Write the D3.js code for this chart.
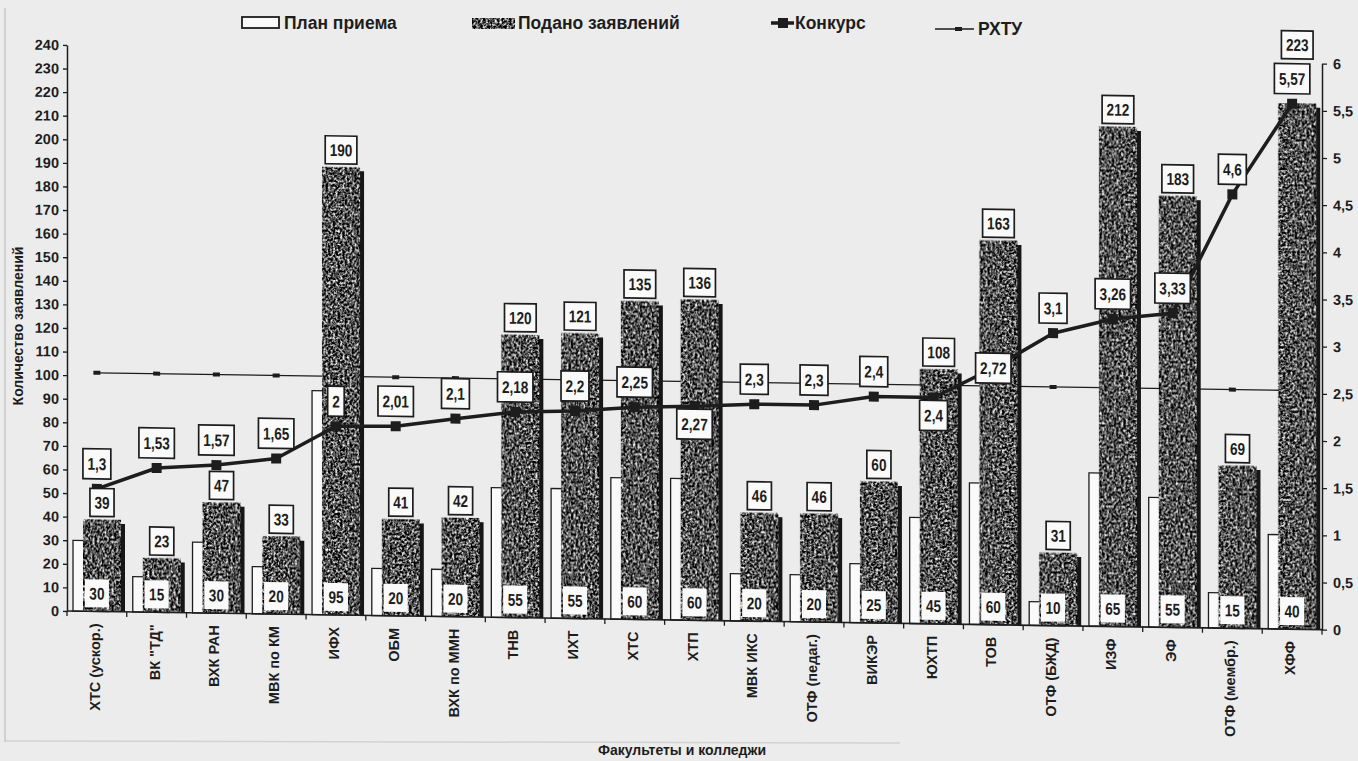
<!DOCTYPE html>
<html lang="ru">
<head>
<meta charset="utf-8">
<title>Конкурс по факультетам и колледжам</title>
<script src="https://cdn.jsdelivr.net/npm/d3@7"></script>
<style>
  body { margin: 0; background: #ececec; }
  svg { display: block; font-family: 'Liberation Sans', Arial, sans-serif; }
</style>
</head>
<body>
<div id="chart"></div>
<script>
// data
const categories = ['ХТС (ускор.)', 'ВК "ТД"', 'ВХК РАН', 'МВК по КМ', 'ИФХ', 'ОБМ', 'ВХК по ММН',
  'ТНВ', 'ИХТ', 'ХТС', 'ХТП', 'МВК ИКС', 'ОТФ (педаг.)', 'ВИКЭР', 'ЮХТП', 'ТОВ', 'ОТФ (БЖД)',
  'ИЗФ', 'ЭФ', 'ОТФ (мембр.)', 'ХФФ'];
const planValues = [30, 15, 30, 20, 95, 20, 20, 55, 55, 60, 60, 20, 20, 25, 45, 60, 10, 65, 55, 15, 40];
const appliedValues = [39, 23, 47, 33, 190, 41, 42, 120, 121, 135, 136, 46, 46, 60, 108, 163, 31, 212, 183, 69, 223];
const contestValues = [1.3, 1.53, 1.57, 1.65, 2, 2.01, 2.1, 2.18, 2.2, 2.25, 2.27, 2.3, 2.3, 2.4, 2.4, 2.72, 3.1, 3.26, 3.33, 4.6, 5.57];
const universityContest = 2.53; // РХТУ
const leftTicks = d3.range(0, 241, 10);
const rightTicks = d3.range(0, 6.01, 0.5);
const legendLabels = ['План приема', 'Подано заявлений', 'Конкурс', 'РХТУ'];
const yTitle = 'Количество заявлений';
const xTitle = 'Факультеты и колледжи';

// where the contest label sits off its default spot (above the marker)
const contestBelow = [10, 14];
const contestCentered = [15];

const W = 1358, H = 761;
const x0 = 67, x1 = 1322, yBase = 611, yTop = 45;
const ink = '#1d1d1d';
const paperWhite = '#fafafa';
const skewDeg = 0.85; // the scan is sheared a little

const fmt = d => String(d).replace('.', ',');

const svg = d3.select('#chart').append('svg')
  .attr('width', W)
  .attr('height', H);

// grainy fill for "Подано заявлений"
const defs = svg.append('defs');
const grain = defs.append('filter')
  .attr('id', 'grain')
  .attr('x', 0).attr('y', 0).attr('width', 1).attr('height', 1)
  .attr('color-interpolation-filters', 'sRGB');
grain.append('feTurbulence')
  .attr('type', 'fractalNoise')
  .attr('baseFrequency', 0.42)
  .attr('numOctaves', 3)
  .attr('seed', 4)
  .attr('result', 'noise');
grain.append('feColorMatrix')
  .attr('in', 'noise')
  .attr('type', 'matrix')
  .attr('values', '2.3 0 0 0 -0.83  2.3 0 0 0 -0.83  2.3 0 0 0 -0.83  0 0 0 0 1')
  .attr('result', 'tone');
grain.append('feComposite')
  .attr('in', 'tone')
  .attr('in2', 'SourceGraphic')
  .attr('operator', 'in');

// faint page frame
svg.append('line').attr('x1', 5).attr('x2', 5).attr('y1', 8).attr('y2', 742)
  .style('stroke', '#c9c9c9').style('stroke-width', 1.5);
svg.append('line').attr('x1', 5).attr('x2', 900).attr('y1', 741).attr('y2', 743)
  .style('stroke', '#d2d2d2').style('stroke-width', 1.5);

// Scales
const idx = d3.range(categories.length);
const scaleX = d3.scaleBand().domain(idx).range([x0, x1]);
const scaleY = d3.scaleLinear().domain([0, 240]).range([yBase, yTop]);
const scaleY2 = d3.scaleLinear().domain([0, 6]).range([yBase, yTop]);
const bw = scaleX.bandwidth();
const mid = i => scaleX(i) + bw / 2;
const whiteX = i => scaleX(i) + 6;
const darkX = i => scaleX(i) + 16;
const whiteW = 36, darkW = 38;

const plot = svg.append('g')
  .attr('transform', `translate(${x0},0) skewY(${skewDeg}) translate(${-x0},0)`);

// РХТУ line sits behind the bars
plot.append('line')
  .attr('x1', mid(0)).attr('x2', mid(idx.length - 1))
  .attr('y1', scaleY2(universityContest)).attr('y2', scaleY2(universityContest))
  .style('stroke', ink).style('stroke-width', 1.3);
plot.selectAll('.rh-mark')
  .data(idx)
  .enter().append('rect')
  .attr('class', 'rh-mark')
  .attr('x', i => mid(i) - 3.5)
  .attr('y', scaleY2(universityContest) - 2)
  .attr('width', 7).attr('height', 4)
  .style('fill', ink);

// План приема
plot.selectAll('.plan')
  .data(idx)
  .enter().append('rect')
  .attr('class', 'plan')
  .attr('x', whiteX)
  .attr('y', i => scaleY(planValues[i]))
  .attr('width', whiteW)
  .attr('height', i => yBase - scaleY(planValues[i]))
  .style('fill', paperWhite)
  .style('stroke', ink)
  .style('stroke-width', 1.3);

// Подано заявлений: shadow then grain
plot.selectAll('.applied-shadow')
  .data(idx)
  .enter().append('rect')
  .attr('class', 'applied-shadow')
  .attr('x', i => darkX(i) + 4)
  .attr('y', i => scaleY(appliedValues[i]) + 4)
  .attr('width', darkW)
  .attr('height', i => yBase - scaleY(appliedValues[i]) - 4)
  .style('fill', '#161616');

plot.selectAll('.applied')
  .data(idx)
  .enter().append('rect')
  .attr('class', 'applied')
  .attr('x', darkX)
  .attr('y', i => scaleY(appliedValues[i]))
  .attr('width', darkW)
  .attr('height', i => yBase - scaleY(appliedValues[i]))
  .style('fill', '#555')
  .attr('filter', 'url(#grain)');

// Axes
const styleAxis = g => {
  g.select('.domain').style('stroke', ink).style('stroke-width', 1.5);
  g.selectAll('.tick line').style('stroke', ink).style('stroke-width', 1.3);
  g.selectAll('.tick text')
    .style('fill', ink)
    .style('font-size', '14.5px')
    .style('font-weight', 'bold');
};

plot.append('g')
  .attr('transform', `translate(${x0},0)`)
  .call(d3.axisLeft(scaleY).tickValues(leftTicks).tickSize(4).tickSizeOuter(0).tickPadding(4))
  .call(styleAxis);

plot.append('g')
  .attr('transform', `translate(${x1},0)`)
  .call(d3.axisRight(scaleY2).tickValues(rightTicks).tickFormat(fmt).tickSize(5).tickSizeOuter(0).tickPadding(6))
  .call(styleAxis);

plot.append('line')
  .attr('x1', x0).attr('x2', x1)
  .attr('y1', yBase).attr('y2', yBase)
  .style('stroke', ink).style('stroke-width', 1.6);
plot.selectAll('.x-tick')
  .data(idx.concat([idx.length]))
  .enter().append('line')
  .attr('class', 'x-tick')
  .attr('x1', i => x0 + i * bw).attr('x2', i => x0 + i * bw)
  .attr('y1', yBase).attr('y2', yBase + 5)
  .style('stroke', ink).style('stroke-width', 1.3);

plot.selectAll('.cat')
  .data(idx)
  .enter().append('text')
  .attr('class', 'cat')
  .attr('transform', i => `translate(${mid(i) - 2}, ${yBase + 12}) rotate(-90)`)
  .attr('text-anchor', 'end')
  .attr('dy', '0.35em')
  .style('font-size', '14.5px')
  .style('font-weight', 'bold')
  .style('fill', ink)
  .text(i => categories[i]);

// Конкурс line goes over the bars
const contestLine = d3.line()
  .x(i => mid(i))
  .y(i => scaleY2(contestValues[i]));

plot.append('path')
  .datum(idx)
  .attr('d', contestLine)
  .style('fill', 'none')
  .style('stroke', ink)
  .style('stroke-width', 3.5)
  .style('stroke-linejoin', 'round');

plot.selectAll('.c-mark')
  .data(idx)
  .enter().append('rect')
  .attr('class', 'c-mark')
  .attr('x', i => mid(i) - 5)
  .attr('y', i => scaleY2(contestValues[i]) - 5)
  .attr('width', 10).attr('height', 10)
  .style('fill', ink);

// boxed data labels
const labels = plot.append('g');
function boxLabel(cx, top, text, h, bordered) {
  const g = labels.append('g');
  const rect = g.append('rect');
  const t = g.append('text')
    .attr('transform', `translate(${cx}, ${top + h / 2}) scale(0.8, 1)`)
    .attr('text-anchor', 'middle')
    .attr('dy', '0.36em')
    .style('font-size', '17px')
    .style('font-weight', 'bold')
    .style('fill', ink)
    .text(text);
  const w = t.node().getComputedTextLength() * 0.8 + 9;
  rect.attr('x', cx - w / 2).attr('y', top)
    .attr('width', w).attr('height', h)
    .style('fill', paperWhite)
    .style('stroke', bordered ? ink : 'none')
    .style('stroke-width', 1.7);
}

const boxH = 28;
idx.forEach(i => {
  // plan labels sit at the base
  boxLabel(mid(i), yBase - 4 - boxH, planValues[i], boxH, false);

  // contest label
  const cy = scaleY2(contestValues[i]);
  let cTop = cy - 10 - 30;
  if (contestBelow.includes(i)) cTop = cy + 3;
  if (contestCentered.includes(i)) cTop = cy - 15;

  // applied label above its bar, pushed up if it hits the contest label
  let aBottom = scaleY(appliedValues[i]) - 3;
  if (aBottom > cTop && aBottom - boxH < cTop + 30) aBottom = cTop - 5;
  boxLabel(darkX(i) + darkW / 2, aBottom - boxH, appliedValues[i], boxH, true);

  boxLabel(mid(i), cTop, fmt(contestValues[i]), 30, true);
});

// Legend
const legend = svg.append('g');
const legendText = (x, y, s) => legend.append('text')
  .attr('x', x).attr('y', y).attr('dy', '0.36em')
  .style('font-size', '17.5px').style('font-weight', 'bold').style('fill', ink)
  .text(s);

legend.append('rect')
  .attr('x', 242).attr('y', 17).attr('width', 37).attr('height', 11)
  .style('fill', paperWhite).style('stroke', ink).style('stroke-width', 1.8);
legendText(284, 23, legendLabels[0]);

legend.append('rect')
  .attr('x', 472).attr('y', 18).attr('width', 43).attr('height', 11)
  .style('fill', '#555').attr('filter', 'url(#grain)');
legendText(518, 23, legendLabels[1]);

legend.append('line')
  .attr('x1', 771).attr('x2', 794).attr('y1', 23).attr('y2', 23)
  .style('stroke', ink).style('stroke-width', 3.5);
legend.append('rect')
  .attr('x', 778).attr('y', 18).attr('width', 10).attr('height', 10)
  .style('fill', ink);
legendText(795, 23, legendLabels[2]);

legend.append('line')
  .attr('x1', 935).attr('x2', 974).attr('y1', 29).attr('y2', 29)
  .style('stroke', ink).style('stroke-width', 1.5);
legend.append('rect')
  .attr('x', 955).attr('y', 27).attr('width', 7).attr('height', 4)
  .style('fill', ink);
legendText(978, 29, legendLabels[3]);

// Axis titles
svg.append('text')
  .attr('transform', 'translate(18, 326) rotate(-90)')
  .attr('text-anchor', 'middle')
  .attr('dy', '0.35em')
  .style('font-size', '14px').style('font-weight', 'bold').style('fill', ink)
  .text(yTitle);

svg.append('text')
  .attr('x', 682).attr('y', 750)
  .attr('text-anchor', 'middle')
  .attr('dy', '0.35em')
  .style('font-size', '14px').style('font-weight', 'bold').style('fill', ink)
  .text(xTitle);
</script>
</body>
</html>
